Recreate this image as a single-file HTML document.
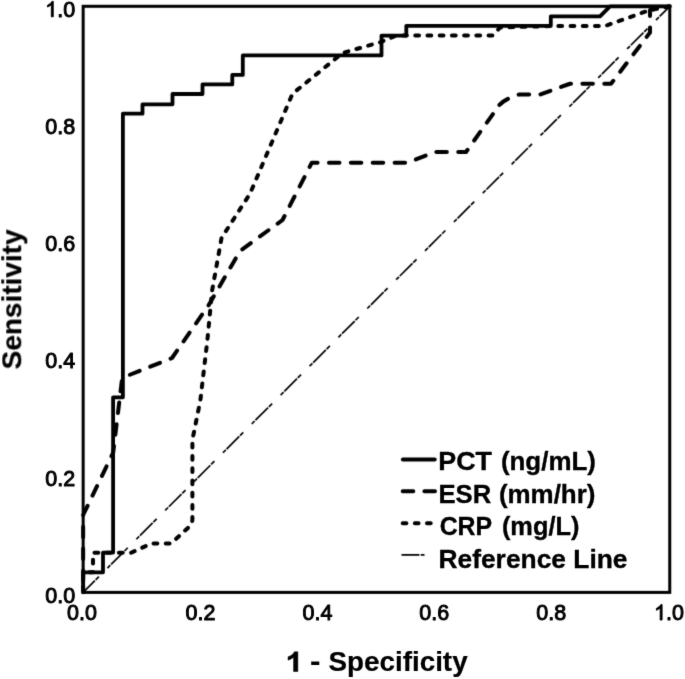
<!DOCTYPE html>
<html>
<head>
<meta charset="utf-8">
<style>
html,body{margin:0;padding:0;background:#fff;}
body{width:685px;height:679px;overflow:hidden;font-family:"Liberation Sans",sans-serif;}
svg{display:block;filter:grayscale(1);}
text{font-family:"Liberation Sans",sans-serif;fill:#000;stroke:#000;stroke-linejoin:round;}
.tick{font-size:21.5px;stroke-width:0.95px;}
.ttl{font-size:28px;font-weight:bold;stroke-width:0.2px;}
.leg{font-size:26.3px;font-weight:bold;stroke-width:0.35px;}
</style>
</head>
<body>
<svg width="685" height="679" viewBox="0 0 685 679">
<defs><filter id="soft" x="0" y="0" width="685" height="679" filterUnits="userSpaceOnUse" color-interpolation-filters="sRGB"><feConvolveMatrix order="3" kernelMatrix="0.01562 0.09375 0.01562 0.09375 0.56250 0.09375 0.01562 0.09375 0.01562" divisor="1" edgeMode="duplicate" preserveAlpha="true"/></filter><filter id="softt" x="0" y="0" width="685" height="679" filterUnits="userSpaceOnUse" color-interpolation-filters="sRGB"><feConvolveMatrix order="3" kernelMatrix="0.00810 0.07380 0.00810 0.07380 0.67240 0.07380 0.00810 0.07380 0.00810" divisor="1" edgeMode="none" preserveAlpha="false"/></filter></defs>
<g filter="url(#soft)">
<rect x="-5" y="-5" width="695" height="689" fill="#fff"/>
<line x1="83.15" y1="592.35" x2="669.8" y2="6.3" stroke="#000" stroke-width="1.7" stroke-dasharray="4.1 1.1 17.9 1.1 4.6 12.01" stroke-dashoffset="6.5"/>
<path d="M83.15,592.35 V572.3 H93 V552.8 H131 L151.6,543.4 H171.2 L190,526 Q192.4,523 192.4,519 V440 L200.4,400 L207.4,340 L212.1,290.7 L221.5,238 L250,193.75 L292.5,93.75 L342.5,53 L380,42.3 L396,35.6 H492.5 L500,27.5 L551,26 H605 L650,10 L669.8,6.3" fill="none" stroke="#000" stroke-width="4.0" stroke-dasharray="3.8 8.42" stroke-dashoffset="10.23" stroke-linejoin="round" stroke-linecap="round"/>
<path d="M83.15,592.35 V515 L113.2,452.5 L122.2,377.8 L172,358 L208.75,305 L240,251 L282.5,220 L311.8,162.7 H407.5 L435,152 H466 L498.5,106.2 Q502.5,99.8 519,94.6 H540 L570,83.75 H611 L650,32.5 V10 L669.8,6.3" fill="none" stroke="#000" stroke-width="4.0" stroke-dasharray="10.5 11.38" stroke-dashoffset="10.47" stroke-linejoin="round" stroke-linecap="round"/>
<path d="M83.15,592.35 V572.3 H103 V552.6 H113.1 V397.3 H122.9 V113.7 H142.5 V104.3 H172.5 V94.0 H202.5 V84.4 H232.3 V74.9 H242.8 V55.4 H381.5 V35.6 H406.3 V25.8 H550.8 V16.3 H600 L610,6.3 H669.8" fill="none" stroke="#000" stroke-width="3.8" stroke-linejoin="round"/>
<rect x="83.15" y="6.3" width="586.6" height="586.1" fill="none" stroke="#000" stroke-width="3.0"/>
<line x1="402.9" y1="459.5" x2="434.7" y2="459.5" stroke="#000" stroke-width="4.0" stroke-linecap="round"/>
<line x1="402.7" y1="491.2" x2="435" y2="491.2" stroke="#000" stroke-width="4.0" stroke-linecap="round" stroke-dasharray="10.6 11.1"/>
<line x1="402.7" y1="523.2" x2="431" y2="523.2" stroke="#000" stroke-width="4.0" stroke-linecap="round" stroke-dasharray="3.7 8.44"/>
<line x1="401.5" y1="554.9" x2="424.8" y2="554.9" stroke="#000" stroke-width="1.9" stroke-dasharray="18.0 1.3 3.7 100"/>
</g>
<g filter="url(#softt)">
<text class="tick" transform="translate(75.1,602.9) scale(1.0,1.06)" text-anchor="end">0.0</text>
<text class="tick" transform="translate(75.1,485.6) scale(1.0,1.06)" text-anchor="end">0.2</text>
<text class="tick" transform="translate(75.1,368.4) scale(1.0,1.06)" text-anchor="end">0.4</text>
<text class="tick" transform="translate(75.1,251.2) scale(1.0,1.06)" text-anchor="end">0.6</text>
<text class="tick" transform="translate(75.1,134.0) scale(1.0,1.06)" text-anchor="end">0.8</text>
<path d="M763,0 H583 V1147 Q518,1085 412.5,1023 T223,930 V1104 Q373,1174.5 485.5,1275.5 T647,1472 H763 Z" transform="translate(45.21,16.8) scale(0.010498,-0.010498)" fill="#000" stroke="#000" stroke-width="0.95" stroke-linejoin="round" vector-effect="non-scaling-stroke"/><text class="tick" transform="translate(57.17,16.8) scale(1.0,1.06)" text-anchor="start">.0</text>
<text class="tick" transform="translate(82.0,620.0) scale(1.0,1.06)" text-anchor="middle">0.0</text>
<text class="tick" transform="translate(200.5,620.0) scale(1.0,1.06)" text-anchor="middle">0.2</text>
<text class="tick" transform="translate(317.4,620.0) scale(1.0,1.06)" text-anchor="middle">0.4</text>
<text class="tick" transform="translate(434.3,620.0) scale(1.0,1.06)" text-anchor="middle">0.6</text>
<text class="tick" transform="translate(551.3,620.0) scale(1.0,1.06)" text-anchor="middle">0.8</text>
<path d="M763,0 H583 V1147 Q518,1085 412.5,1023 T223,930 V1104 Q373,1174.5 485.5,1275.5 T647,1472 H763 Z" transform="translate(654.06,620.0) scale(0.010498,-0.010498)" fill="#000" stroke="#000" stroke-width="0.95" stroke-linejoin="round" vector-effect="non-scaling-stroke"/><text class="tick" transform="translate(666.01,620.0) scale(1.0,1.06)" text-anchor="start">.0</text>
<path d="M806,0 H525 V1059 Q371,915 162,846 V1101 Q272,1137 401,1237.5 T578,1472 H806 Z" transform="translate(285.58,671.5) scale(0.015217,-0.013373)" fill="#000" stroke="#000" stroke-width="0.5" stroke-linejoin="round" vector-effect="non-scaling-stroke"/>
<text class="ttl" transform="translate(309.89,671.1) scale(1.1096,0.985)" text-anchor="start">-</text>
<text class="ttl" transform="translate(328.4,671.1) scale(0.9943,0.985)" text-anchor="start">Specificity</text>
<text class="ttl" transform="translate(20.9,299.4) rotate(-90) scale(1.0,0.985)" text-anchor="middle">Sensitivity</text>
<text class="leg" transform="translate(438.34,470.3) scale(1.0208,1.0)" text-anchor="start">PCT</text>
<text class="leg" transform="translate(500.89,470.3) scale(0.9856,1.0)" text-anchor="start">(ng/mL)</text>
<text class="leg" transform="translate(438.42,503.1) scale(0.9759,1.0)" text-anchor="start">ESR</text>
<text class="leg" transform="translate(498.89,503.1) scale(0.9869,1.0)" text-anchor="start">(mm/hr)</text>
<text class="leg" transform="translate(439.63,535.3) scale(0.9451,1.0)" text-anchor="start">CRP</text>
<text class="leg" transform="translate(501.92,535.3) scale(0.9647,1.0)" text-anchor="start">(mg/L)</text>
<text class="leg" transform="translate(438.47,567.6) scale(1.003,1.0)" text-anchor="start">Reference Line</text>
</g>
</svg>
</body>
</html>
